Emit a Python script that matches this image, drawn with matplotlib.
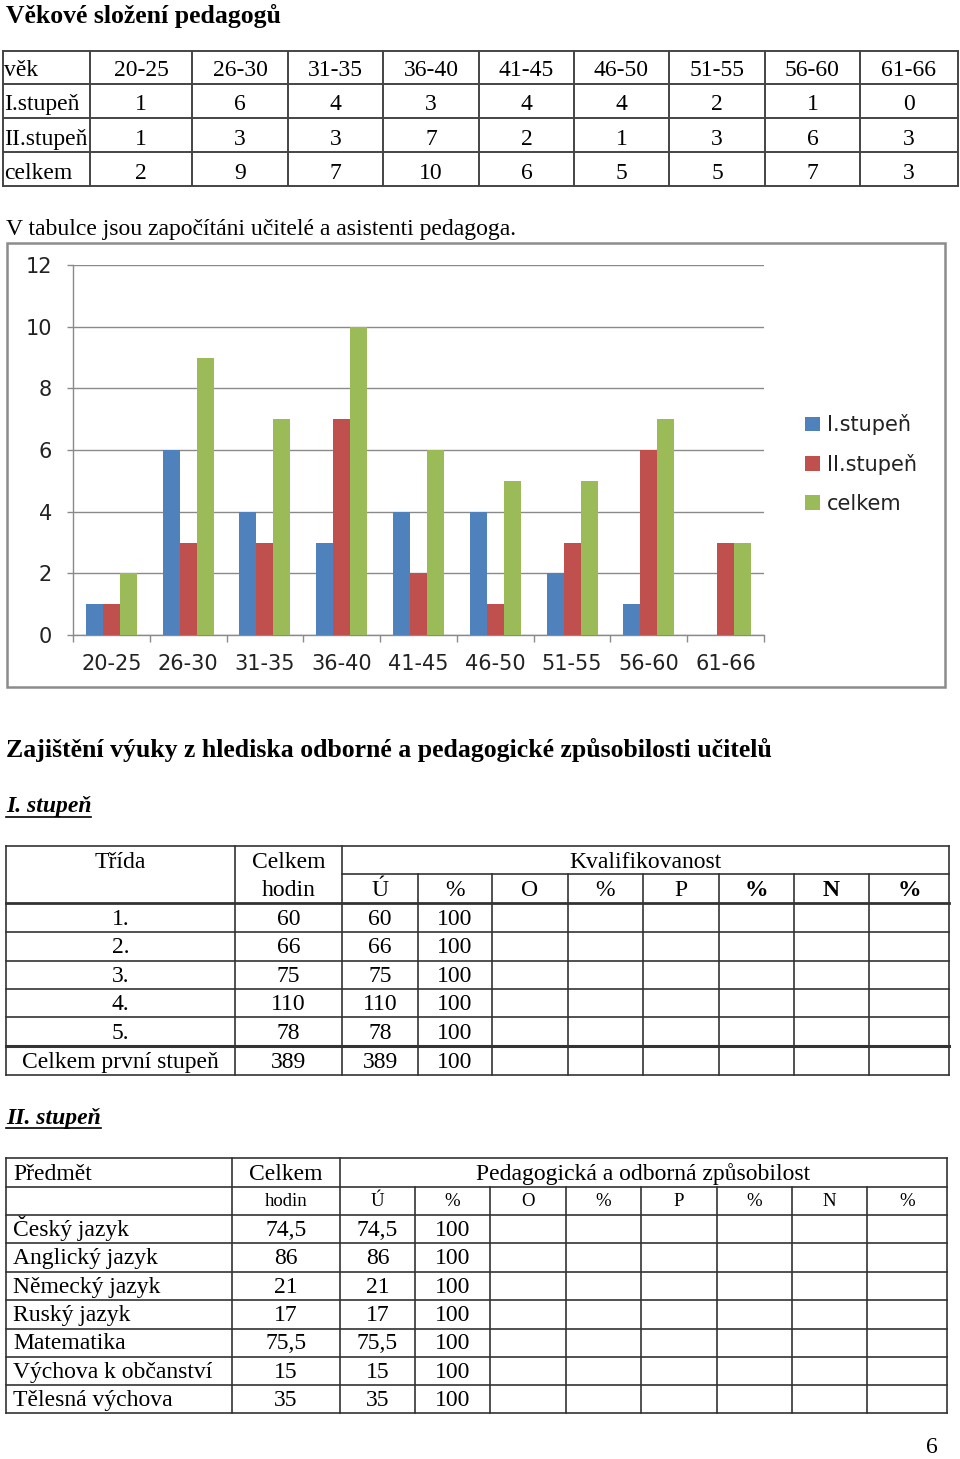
import matplotlib
matplotlib.use('Agg')
import matplotlib.pyplot as plt
import numpy as np
from matplotlib.patches import Rectangle

# ---------------- data ----------------
age_groups = ['20-25', '26-30', '31-35', '36-40', '41-45', '46-50', '51-55', '56-60', '61-66']
stupen_1 = [1, 6, 4, 3, 4, 4, 2, 1, 0]
stupen_2 = [1, 3, 3, 7, 2, 1, 3, 6, 3]
celkem = [2, 9, 7, 10, 6, 5, 5, 7, 3]
series_names = ['I.stupeň', 'II.stupeň', 'celkem']
series_colors = ['#4F81BD', '#C0504D', '#9BBB59']
y_ticks = [0, 2, 4, 6, 8, 10, 12]

t1_classes = ['1.', '2.', '3.', '4.', '5.', 'Celkem první stupeň']
t1_hours = ['60', '66', '75', '110', '78', '389']
t1_u = ['60', '66', '75', '110', '78', '389']
t1_pct = ['100', '100', '100', '100', '100', '100']
t1_sub_headers = ['Ú', '%', 'O', '%', 'P', '%', 'N', '%']

t2_subjects = ['Český jazyk', 'Anglický jazyk', 'Německý jazyk', 'Ruský jazyk',
               'Matematika', 'Výchova k občanství', 'Tělesná výchova']
t2_hours = ['74,5', '86', '21', '17', '75,5', '15', '35']
t2_u = ['74,5', '86', '21', '17', '75,5', '15', '35']
t2_pct = ['100', '100', '100', '100', '100', '100', '100']
t2_sub_headers = ['Ú', '%', 'O', '%', 'P', '%', 'N', '%']

# ---------------- figure ----------------
W, H = 960, 1459
fig = plt.figure(figsize=(W / 100, H / 100), dpi=100)
bg = fig.add_axes([0, 0, 1, 1])
bg.set_xlim(0, W)
bg.set_ylim(H, 0)
bg.axis('off')

SERIF = 'Liberation Serif'
FS = 17
BFS = 18.5
LC = '#333333'
SANS = 'DejaVu Sans'
CFS = 15


def hline(y, x0, x1, lw=1.2, c=LC):
    bg.plot([x0, x1], [y, y], color=c, lw=lw, solid_capstyle='projecting')


def vline(x, y0, y1, lw=1.2, c=LC):
    bg.plot([x, x], [y0, y1], color=c, lw=lw, solid_capstyle='projecting')


def txt(x, y, s, ha='center', size=FS, weight='normal', style='normal'):
    bg.text(x, y, s, ha=ha, va='baseline', fontsize=size, family=SERIF,
            fontweight=weight, fontstyle=style, color='black')


# ---- title ----
txt(6, 23, 'Věkové složení pedagogů', ha='left', size=BFS, weight='bold')

# ---- table 1 ----
rows1 = [51, 84, 118, 152, 186]
cols1 = [3, 90, 192, 288, 383, 479, 574, 669, 765, 860, 958]
for y in rows1:
    hline(y, cols1[0], cols1[-1], lw=1.4, c='#444444')
for x in cols1:
    vline(x, rows1[0], rows1[-1], lw=1.4, c='#444444')
base1 = [76, 110, 145, 179]
row_labels1 = ['věk', 'I.stupeň', 'II.stupeň', 'celkem']
row_data1 = [age_groups, stupen_1, stupen_2, celkem]
for r in range(4):
    txt(4, base1[r], row_labels1[r], ha='left')
    for c in range(9):
        xc = (cols1[c + 1] + cols1[c + 2]) / 2
        txt(xc, base1[r], str(row_data1[r][c]))

txt(6, 235, 'V tabulce jsou započítáni učitelé a asistenti pedagoga.', ha='left')

# ---- chart border ----
bg.add_patch(Rectangle((7, 243), 938, 444, fill=False, ec='#8c8c8c', lw=1.8))

# ---- bar chart ----
ax_l, ax_r, ax_t, ax_b = 73, 764, 265, 635
ax = fig.add_axes([ax_l / W, (H - ax_b) / H, (ax_r - ax_l) / W, (ax_b - ax_t) / H])
ax.patch.set_alpha(0)
x = np.arange(len(age_groups))
bw = 0.221
handles = []
for i, (vals, name, col) in enumerate(zip([stupen_1, stupen_2, celkem], series_names, series_colors)):
    b = ax.bar(x + (i - 1) * bw, vals, width=bw, color=col, label=name, zorder=3)
    handles.append(b)
ax.set_xlim(-0.5, len(age_groups) - 0.5)
ax.set_ylim(0, 12)
ax.set_yticks(y_ticks)
ax.set_yticklabels([str(v) for v in y_ticks], fontsize=CFS, family=SANS, color='#222222')
ax.grid(axis='y', color='#8a8a8a', lw=1.0, zorder=0)
ax.tick_params(axis='y', length=4.3, width=1.0, color='#8a8a8a', pad=11)
ax.set_xticks(np.arange(-0.5, len(age_groups), 1.0))
ax.set_xticklabels([])
ax.set_xticks(x, minor=True)
ax.set_xticklabels(age_groups, minor=True, fontsize=CFS, family=SANS, color='#222222')
ax.tick_params(axis='x', which='major', length=5, width=1.0, color='#8a8a8a')
ax.tick_params(axis='x', which='minor', length=0, pad=13.5)
for s in ['top', 'right']:
    ax.spines[s].set_visible(False)
for s in ['left', 'bottom']:
    ax.spines[s].set_color('#8a8a8a')
    ax.spines[s].set_linewidth(1.0)
leg = ax.legend(handles=handles, loc='center left', bbox_to_anchor=(805, 464),
                bbox_transform=bg.transData, frameon=False, borderaxespad=0, borderpad=0,
                handlelength=0.72, handleheight=0.72, handletextpad=0.33, labelspacing=0.9,
                prop={'family': SANS, 'size': CFS})
for t in leg.get_texts():
    t.set_color('#222222')

# ---- heading ----
txt(6, 757, 'Zajištění výuky z hlediska odborné a pedagogické způsobilosti učitelů',
    ha='left', size=BFS, weight='bold')

# ---- I. stupeň ----
txt(6, 812, 'I. stupeň', ha='left', weight='bold', style='italic')
hline(817, 6, 91, lw=1.2, c='black')

cols2 = [6, 235, 342, 418, 492, 568, 643, 719, 794, 869, 949]
hline(846, cols2[0], cols2[-1])
hline(874, cols2[2], cols2[-1])
hline(903, cols2[0], cols2[-1], lw=2.0)
for y in [932, 961, 989, 1017]:
    hline(y, cols2[0], cols2[-1])
hline(1046, cols2[0], cols2[-1], lw=2.2)
hline(1075, cols2[0], cols2[-1])
vline(cols2[0], 846, 1075)
vline(cols2[1], 846, 1075)
vline(cols2[2], 846, 1075)
vline(cols2[-1], 846, 1075)
for xv in cols2[3:-1]:
    vline(xv, 874, 1075)

txt((cols2[0] + cols2[1]) / 2, 868, 'Třída')
txt((cols2[1] + cols2[2]) / 2, 868, 'Celkem')
txt((cols2[1] + cols2[2]) / 2, 896, 'hodin')
txt((cols2[2] + cols2[-1]) / 2, 868, 'Kvalifikovanost')
bold_sub = [False, False, False, False, False, True, True, True]
for c, h in enumerate(t1_sub_headers):
    txt((cols2[c + 2] + cols2[c + 3]) / 2, 896, h, weight='bold' if bold_sub[c] else 'normal')
base2 = [925, 953, 982, 1010, 1039, 1068]
for r in range(len(t1_classes)):
    txt((cols2[0] + cols2[1]) / 2, base2[r], t1_classes[r])
    txt((cols2[1] + cols2[2]) / 2, base2[r], t1_hours[r])
    txt((cols2[2] + cols2[3]) / 2, base2[r], t1_u[r])
    txt((cols2[3] + cols2[4]) / 2, base2[r], t1_pct[r])

# ---- II. stupeň ----
txt(6, 1124, 'II. stupeň', ha='left', weight='bold', style='italic')
hline(1128, 6, 101, lw=1.2, c='black')

rows3 = [1158, 1187, 1215, 1243, 1272, 1300, 1329, 1357, 1385, 1413]
cols3 = [6, 232, 340, 415, 490, 566, 641, 717, 792, 867, 947]
for y in rows3:
    hline(y, cols3[0], cols3[-1])
vline(cols3[0], rows3[0], rows3[-1])
vline(cols3[1], rows3[0], rows3[-1])
vline(cols3[2], rows3[0], rows3[-1])
vline(cols3[-1], rows3[0], rows3[-1])
for xv in cols3[3:-1]:
    vline(xv, rows3[1], rows3[-1])

txt(13, 1180, 'Předmět', ha='left')
txt((cols3[1] + cols3[2]) / 2, 1180, 'Celkem')
txt((cols3[2] + cols3[-1]) / 2, 1180, 'Pedagogická a odborná způsobilost')
txt((cols3[1] + cols3[2]) / 2, 1206, 'hodin', size=13.5)
for c, h in enumerate(t2_sub_headers):
    txt((cols3[c + 2] + cols3[c + 3]) / 2, 1206, h, size=13.5)
base3 = [1236, 1264, 1293, 1321, 1349, 1378, 1406]
for r in range(len(t2_subjects)):
    txt(13, base3[r], t2_subjects[r], ha='left')
    txt((cols3[1] + cols3[2]) / 2, base3[r], t2_hours[r])
    txt((cols3[2] + cols3[3]) / 2, base3[r], t2_u[r])
    txt((cols3[3] + cols3[4]) / 2, base3[r], t2_pct[r])

txt(932, 1453, '6')

fig.savefig('out.png', dpi=100)
